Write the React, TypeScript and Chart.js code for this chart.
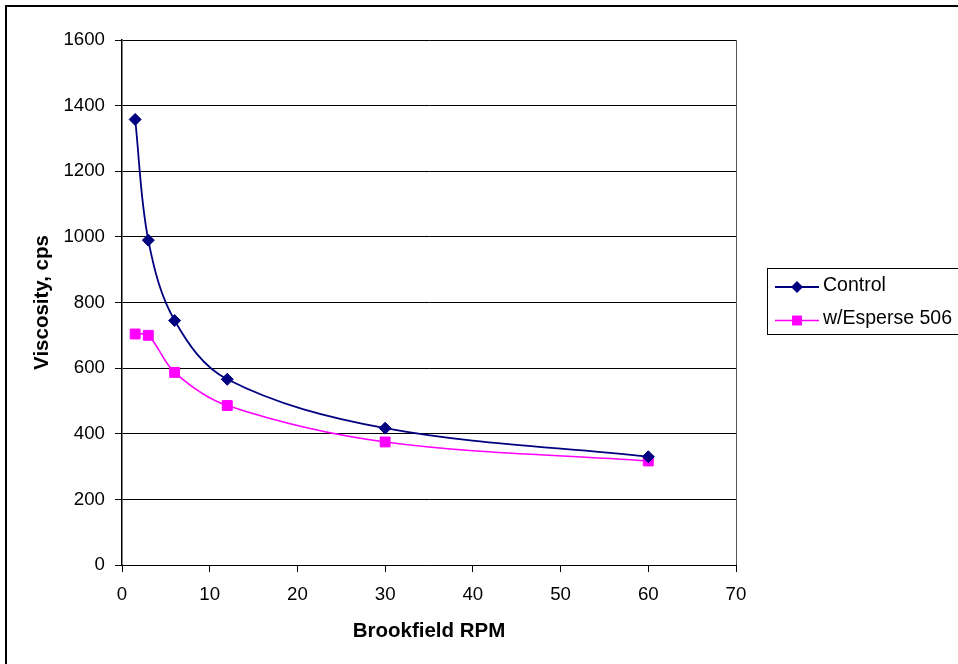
import React, { useEffect, useRef } from 'react';
import { Chart, registerables } from 'chart.js';

Chart.register(...registerables);

// ---- data ----
const rpm = [1.5, 3, 6, 12, 30, 60];
const controlValues = [1358, 990, 745, 566, 417, 330];
const esperseValues = [704, 700, 587, 486, 375, 317];
const seriesLabels = ['Control', 'w/Esperse 506'];
const xTitle = 'Brookfield RPM';
const yTitle = 'Viscosity, cps';
const xRange = [0, 70];
const xStep = 10;
const yRange = [0, 1600];
const yStep = 200;

const FONT = '"Liberation Sans", Arial, Helvetica, sans-serif';
const NAVY = '#000080';
const MAGENTA = '#FF00FF';

const framePlugin = {
  id: 'framePlugin',
  beforeDraw(chart: any) {
    const ctx = chart.ctx;
    ctx.save();
    ctx.fillStyle = '#ffffff';
    ctx.fillRect(0, 0, chart.width, chart.height);
    ctx.restore();
  },
  afterDraw(chart: any) {
    const ctx = chart.ctx;
    const { right, top, bottom } = chart.chartArea;
    ctx.save();
    // plot-area right border
    ctx.strokeStyle = '#555555';
    ctx.lineWidth = 1;
    ctx.beginPath();
    ctx.moveTo(Math.round(right) + 0.5, top);
    ctx.lineTo(Math.round(right) + 0.5, bottom);
    ctx.stroke();

    // outer chart border (left and top visible)
    ctx.strokeStyle = '#000000';
    ctx.lineWidth = 2;
    ctx.beginPath();
    ctx.moveTo(6, chart.height + 4);
    ctx.lineTo(6, 6);
    ctx.lineTo(chart.width + 4, 6);
    ctx.stroke();

    // legend box
    ctx.lineWidth = 1;
    ctx.strokeStyle = '#000000';
    ctx.strokeRect(767.5, 268.5, 260, 66);

    const rows = [287, 320.5];
    chart.data.datasets.forEach((ds: any, i: number) => {
      const y = rows[i];
      ctx.strokeStyle = ds.borderColor;
      ctx.lineWidth = ds.borderWidth;
      ctx.beginPath();
      ctx.moveTo(775, y);
      ctx.lineTo(819, y);
      ctx.stroke();
      ctx.fillStyle = ds.pointBackgroundColor;
      ctx.beginPath();
      const cx = 797;
      if (ds.pointStyle === 'rectRot') {
        const r = ds.pointRadius;
        ctx.moveTo(cx - r, y);
        ctx.lineTo(cx, y - r);
        ctx.lineTo(cx + r, y);
        ctx.lineTo(cx, y + r);
        ctx.closePath();
      } else {
        const s = ds.pointRadius * Math.SQRT1_2;
        ctx.rect(cx - s, y - s, 2 * s, 2 * s);
      }
      ctx.fill();
      ctx.fillStyle = '#000000';
      ctx.font = `19.5px ${FONT}`;
      ctx.textAlign = 'left';
      ctx.textBaseline = 'middle';
      ctx.fillText(ds.label, 823, y - 1.5);
    });
    ctx.restore();
  },
};

export default function App() {
  const canvasRef = useRef<HTMLCanvasElement | null>(null);

  useEffect(() => {
    const canvas = canvasRef.current;
    if (!canvas) return;
    const chart = new Chart(canvas, {
      type: 'scatter',
      data: {
        datasets: [
          {
            label: seriesLabels[0],
            data: rpm.map((x, i) => ({ x, y: controlValues[i] })),
            showLine: true,
            borderColor: NAVY,
            borderWidth: 1.8,
            pointStyle: 'rectRot',
            pointRadius: 6,
            pointBackgroundColor: NAVY,
            pointBorderColor: NAVY,
            pointBorderWidth: 1,
            tension: 0.35,
          },
          {
            label: seriesLabels[1],
            data: rpm.map((x, i) => ({ x, y: esperseValues[i] })),
            showLine: true,
            borderColor: MAGENTA,
            borderWidth: 1.6,
            pointStyle: 'rect',
            pointRadius: 7,
            pointBackgroundColor: MAGENTA,
            pointBorderColor: MAGENTA,
            pointBorderWidth: 1,
            tension: 0.35,
          },
        ],
      },
      options: {
        animation: false,
        responsive: false,
        maintainAspectRatio: false,
        events: [],
        layout: { padding: { left: 0, top: 40, right: 222, bottom: 0 } },
        plugins: {
          legend: { display: false },
          tooltip: { enabled: false },
        },
        scales: {
          x: {
            type: 'linear',
            min: xRange[0],
            max: xRange[1],
            ticks: {
              stepSize: xStep,
              color: '#000',
              font: { family: FONT, size: 18.7 },
              padding: 12,
              maxRotation: 0,
              callback: (v: any) => String(v),
            },
            grid: {
              drawOnChartArea: false,
              drawTicks: true,
              tickLength: 7,
              color: '#000',
            },
            border: { display: true, color: '#000', width: 1 },
            title: {
              display: true,
              text: xTitle,
              color: '#000',
              font: { family: FONT, size: 20.5, weight: 'bold' },
              padding: { top: 0, bottom: 20.7 },
            },
            afterFit: (s: any) => {
              s.height = 99;
            },
          },
          y: {
            type: 'linear',
            min: yRange[0],
            max: yRange[1],
            ticks: {
              stepSize: yStep,
              color: '#000',
              font: { family: FONT, size: 18.7 },
              padding: 10,
              callback: (v: any) => String(v),
            },
            grid: {
              drawOnChartArea: true,
              drawTicks: true,
              tickLength: 7,
              color: '#000',
              lineWidth: 1,
            },
            border: { display: true, color: '#000', width: 1.5 },
            title: {
              display: true,
              text: yTitle,
              color: '#000',
              font: { family: FONT, size: 20.5, weight: 'bold' },
              padding: { top: 29.7, bottom: 0 },
            },
            afterFit: (s: any) => {
              s.width = 122;
            },
          },
        },
      },
      plugins: [framePlugin],
    } as any);
    return () => chart.destroy();
  }, []);

  return (
    <div style={{ position: 'fixed', left: 0, top: 0, width: 958, height: 664, overflow: 'hidden', background: '#fff' }}>
      <canvas ref={canvasRef} width={958} height={664} style={{ display: 'block', width: 958, height: 664 }} />
    </div>
  );
}
